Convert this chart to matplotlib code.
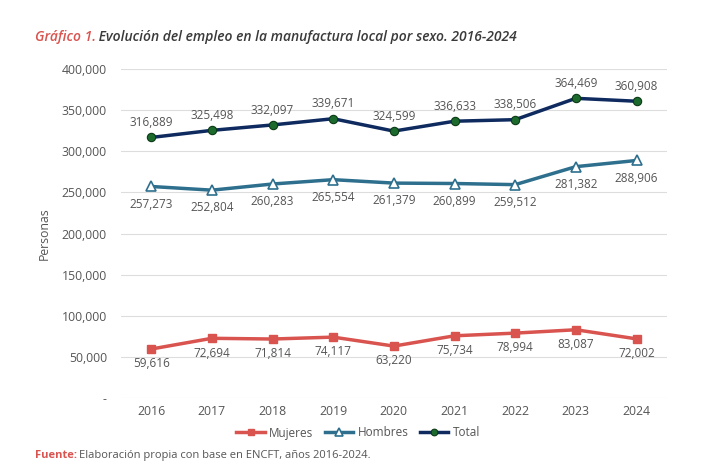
import matplotlib
matplotlib.use("Agg")
import matplotlib.pyplot as plt
from matplotlib.ticker import FuncFormatter

years = ["2016", "2017", "2018", "2019", "2020", "2021", "2022", "2023", "2024"]
mujeres = [59616, 72694, 71814, 74117, 63220, 75734, 78994, 83087, 72002]
hombres = [257273, 252804, 260283, 265554, 261379, 260899, 259512, 281382, 288906]
total = [316889, 325498, 332097, 339671, 324599, 336633, 338506, 364469, 360908]

plt.rcParams['font.family'] = ['Open Sans', 'DejaVu Sans']
gray = '#555555'
red = '#d9534f'
teal = '#2e6f8e'
navy = '#0e2a5f'
green = '#1d6b2c'

fig = plt.figure(figsize=(7.28, 4.70), dpi=100)
ax = fig.add_axes([0.166, 0.153, 0.750, 0.700])
x = list(range(len(years)))

ax.plot(x, mujeres, color=red, lw=2.5, marker='s', ms=6, mfc=red, mec=red, label='Mujeres', zorder=3)
ax.plot(x, hombres, color=teal, lw=2.5, marker='^', ms=6.5, mfc='white', mec=teal, mew=1.2, label='Hombres', zorder=3)
ax.plot(x, total, color=navy, lw=2.5, marker='o', ms=6, mfc=green, mec='#0b3a16', mew=0.8, label='Total', zorder=3)

fs = 8.5
for xi, v in zip(x, total):
    ax.annotate(f"{v:,}", (xi, v), xytext=(0, 6), textcoords='offset points', ha='center', va='bottom', fontsize=fs, color=gray)
for xi, v in zip(x, hombres):
    ax.annotate(f"{v:,}", (xi, v), xytext=(0, -8), textcoords='offset points', ha='center', va='top', fontsize=fs, color=gray)
for xi, v in zip(x, mujeres):
    ax.annotate(f"{v:,}", (xi, v), xytext=(0, -6), textcoords='offset points', ha='center', va='top', fontsize=fs, color=gray)

ax.set_xlim(-0.5, 8.5)
ax.set_ylim(0, 400000)
ax.set_yticks(range(0, 400001, 50000))
ax.yaxis.set_major_formatter(FuncFormatter(lambda v, p: '-' if v == 0 else f"{int(v):,}"))
ax.set_xticks(x)
ax.set_xticklabels(years)
ax.tick_params(axis='both', length=0, labelsize=8.8, colors=gray)
ax.tick_params(axis='x', pad=5)
ax.tick_params(axis='y', pad=10)
ax.grid(axis='y', color='#dddddd', lw=0.8)
ax.set_axisbelow(True)
for s in ax.spines.values():
    s.set_visible(False)
ax.set_ylabel('Personas', fontsize=8.8, color=gray, labelpad=8)

handles, labels = ax.get_legend_handles_labels()
leg = fig.legend(handles, labels, loc='center', bbox_to_anchor=(0.492, 1 - 433 / 470), ncol=3, frameon=False,
                 fontsize=8.5, handlelength=2.4, columnspacing=1.0, handletextpad=0.35, markerscale=0.8)
for t in leg.get_texts():
    t.set_color(gray)

fig.text(0.048, 0.921, 'Gráfico 1.', color=red, fontsize=10, fontstyle='italic', fontweight='semibold', ha='left', va='center')
fig.text(0.048 + 0.083, 0.921, ' Evolución del empleo en la manufactura local por sexo. 2016-2024', color='#3a3a3a',
         fontsize=10, fontstyle='italic', fontweight='semibold', ha='left', va='center')
fig.text(0.048, 0.030, 'Fuente:', color=red, fontsize=8, fontweight='bold', ha='left', va='center')
fig.text(0.048 + 0.061, 0.030, 'Elaboración propia con base en ENCFT, años 2016-2024.', color=gray, fontsize=8, ha='left', va='center')

fig.savefig('out.png', dpi=100, facecolor='white')
